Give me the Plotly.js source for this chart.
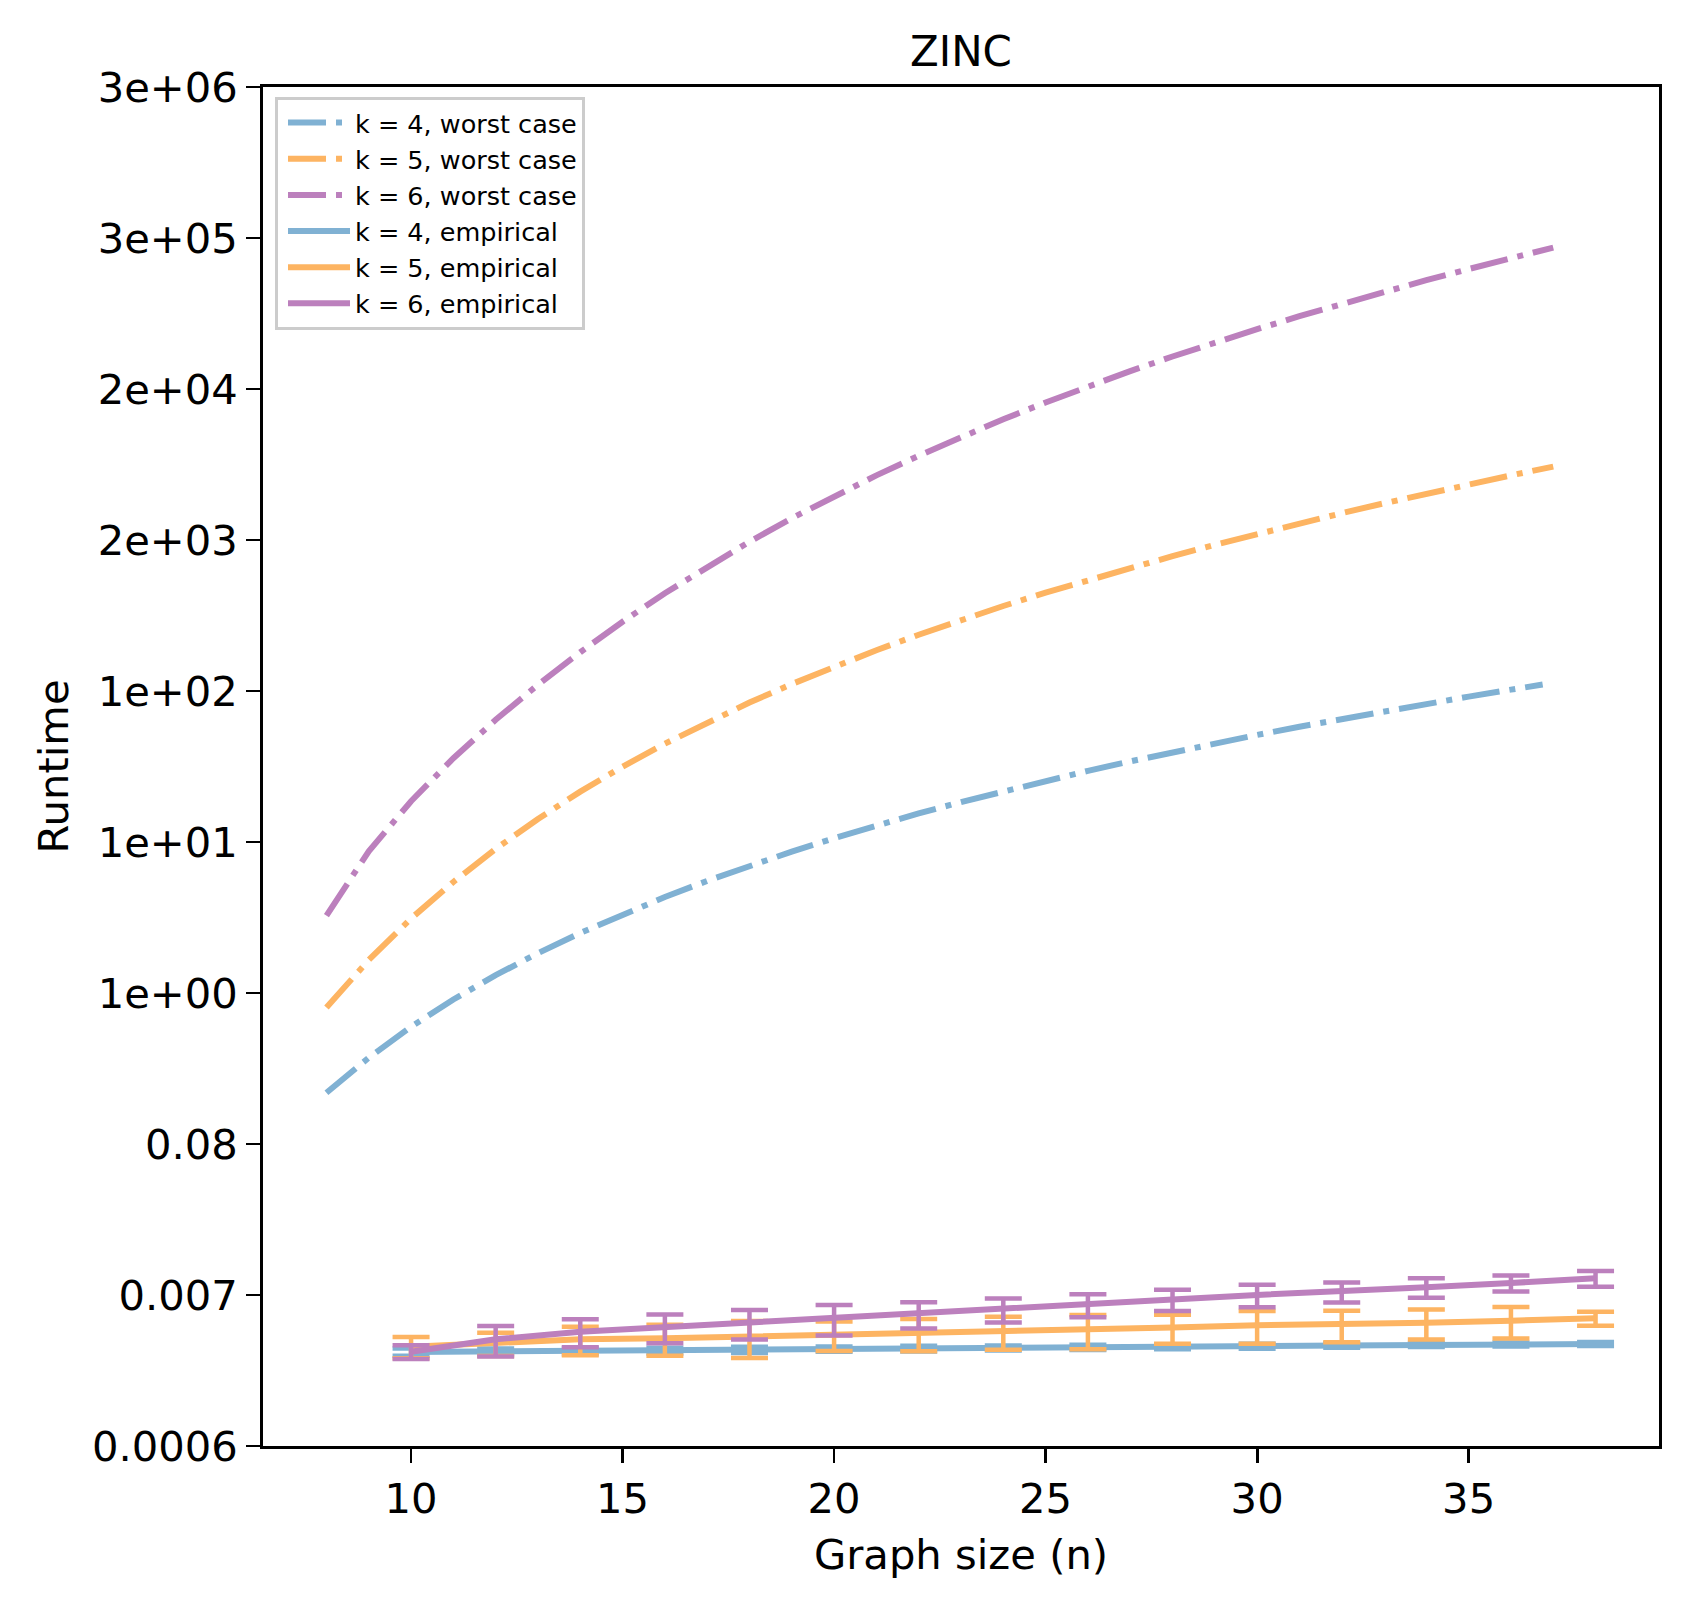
<!DOCTYPE html>
<html>
<head>
<meta charset="utf-8">
<script src="https://cdn.plot.ly/plotly-3.0.1.min.js"></script>
<style>html,body{margin:0;padding:0;background:#fff;}#chart{width:1688px;height:1606px;}</style>
</head>
<body>
<div id="chart"></div>
<script>
// ---- data ----
const nWorst4 = [8,9,10,11,12,13,14,15,16,17,18,19,20,21,22,23,24,25,26,27,28,29,30,31,32,33,34,35,36,36.75];
const worst4 = [0.1919,0.3425,0.5724,0.8980,1.343,1.933,2.701,3.681,4.903,6.401,8.220,10.40,12.98,16.02,19.54,23.60,28.27,33.59,39.57,46.31,53.84,62.28,71.71,82.13,93.61,106.2,120.0,135.2,151.8,165.2];
const nWorst = [8,9,10,11,12,13,14,15,16,17,18,19,20,21,22,23,24,25,26,27,28,29,30,31,32,33,34,35,36,37];
const worst5 = [0.7866,1.727,3.434,6.286,10.86,17.84,28.04,42.41,62.08,88.34,122.6,166.6,222.2,291.6,376.9,480.7,606.3,755.5,932.5,1141,1385,1670,2000,2379,2818,3320,3893,4541,5270,6097];
const worst6 = [3.604,10.45,23.92,48.74,92.23,164.6,282.1,467.4,749.4,1162,1758,2595,3736,5271,7305,9958,13350,17630,22980,29610,37710,47540,59350,73480,90240,110100,133400,160500,192300,229100];

const nEmp = [10,12,14,16,18,20,22,24,26,28,30,32,34,36,38];
const emp4 = [0.002623,0.002654,0.002667,0.002689,0.002720,0.002748,0.002775,0.002803,0.002831,0.002859,0.002888,0.002921,0.002946,0.002970,0.002995];
const err4 = [0.00016,0.00013,0.00014,0.00013,0.00014,0.00012,0.00013,0.00012,0.00012,0.00011,0.00012,0.00011,0.00010,0.00010,0.00010];
const emp5 = [0.002864,0.003030,0.003237,0.003291,0.003379,0.003505,0.003593,0.003714,0.003795,0.003936,0.004088,0.004136,0.004261,0.004405,0.004583];
const err5 = [0.00050,0.00058,0.00075,0.00083,0.00100,0.00084,0.00094,0.00099,0.00105,0.00093,0.00108,0.00105,0.00104,0.00112,0.00053];
const emp6 = [0.002637,0.003237,0.003671,0.003949,0.004240,0.004583,0.004922,0.005320,0.005741,0.006260,0.006743,0.007119,0.007672,0.008224,0.008888];
const err6 = [0.00030,0.00080,0.00084,0.00092,0.00101,0.00113,0.00106,0.00105,0.00107,0.00110,0.00125,0.00117,0.00123,0.00108,0.00115];

const yTickExp = [-7.5,-5,-2.5,0,2.5,5,7.5,10,12.5,15];
const yTickText = ['0.0006','0.007','0.08','1e+00','1e+01','1e+02','2e+03','2e+04','3e+05','3e+06'];
const xTicks = [10,15,20,25,30,35];

const names = ['k = 4, worst case','k = 5, worst case','k = 6, worst case','k = 4, empirical','k = 5, empirical','k = 6, empirical'];
const colors = ['#80b1d3','#fdb462','#bc80bd'];

// ---- traces ----
const dashPat = '38px,10px,6px,10px';
const worstX = [nWorst4, nWorst, nWorst];
const worstY = [worst4, worst5, worst6];
const empY = [emp4, emp5, emp6];
const empE = [err4, err5, err6];
const traces = [];
for (let i = 0; i < 3; i++) {
  traces.push({
    x: worstX[i], y: worstY[i], type: 'scatter', mode: 'lines', name: names[i],
    line: {color: colors[i], width: 6, dash: dashPat}
  });
}
for (let i = 0; i < 3; i++) {
  traces.push({
    x: nEmp, y: empY[i], type: 'scatter', mode: 'lines', name: names[i+3],
    line: {color: colors[i], width: 6},
    error_y: {type: 'data', array: empE[i], symmetric: true, visible: true, color: colors[i], thickness: 4.5, width: 18.5}
  });
}

const font = 'DejaVu Sans, Liberation Sans, sans-serif';
const layout = {
  width: 1688, height: 1606,
  paper_bgcolor: '#ffffff', plot_bgcolor: '#ffffff',
  margin: {l: 263, r: 29, t: 87, b: 160, pad: 0},
  font: {family: font, size: 41.7, color: '#000'},
  showlegend: true,
  title: {text: 'ZINC', font: {family: font, size: 42, color: '#000'}, x: 0.5, xref: 'paper', xanchor: 'center', y: 1 - 66/1606, yanchor: 'bottom', yref: 'container'},
  xaxis: {
    type: 'linear', range: [6.5, 39.5], tickvals: xTicks, ticktext: xTicks.map(String),
    showgrid: false, zeroline: false, showline: true, mirror: true, linecolor: '#000', linewidth: 2.8,
    ticks: 'outside', ticklen: 14, tickwidth: 2.8, tickcolor: '#000',
    tickfont: {family: font, size: 41.7, color: '#000'},
    title: {text: 'Graph size (n)', font: {family: font, size: 41.7, color: '#000'}, standoff: 18},
    automargin: false
  },
  yaxis: {
    type: 'log', range: [-7.5/Math.LN10, 15/Math.LN10],
    tickvals: yTickExp.map(e => Math.exp(e)), ticktext: yTickText,
    showgrid: false, zeroline: false, showline: true, mirror: true, linecolor: '#000', linewidth: 2.8,
    ticks: 'outside', ticklen: 14, tickwidth: 2.8, tickcolor: '#000',
    tickfont: {family: font, size: 41.7, color: '#000'},
    title: {text: 'Runtime', font: {family: font, size: 41.7, color: '#000'}, standoff: 11},
    automargin: false
  },
  legend: {
    x: 0.0086, y: 0.993, xanchor: 'left', yanchor: 'top',
    bgcolor: 'rgba(255,255,255,0.8)', bordercolor: '#cccccc', borderwidth: 3,
    font: {family: font, size: 25.5, color: '#000'},
    itemwidth: 62, indentation: 5, tracegroupgap: 0
  }
};

Plotly.newPlot('chart', traces, layout, {staticPlot: true, displayModeBar: false});
</script>
</body>
</html>
